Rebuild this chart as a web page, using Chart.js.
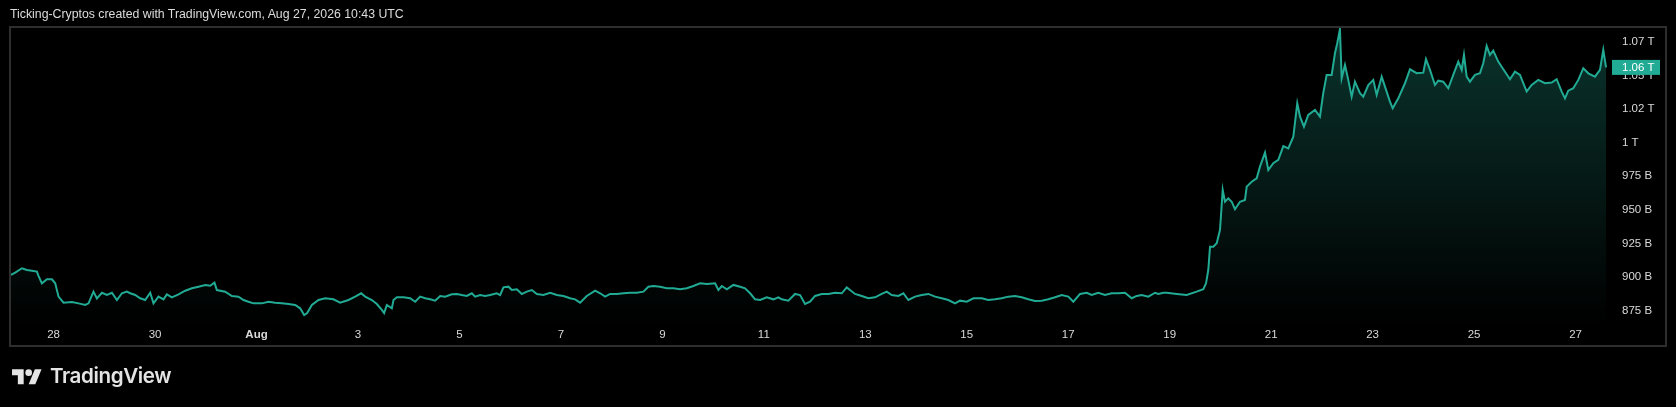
<!DOCTYPE html>
<html>
<head>
<meta charset="utf-8">
<script src="https://cdn.jsdelivr.net/npm/chart.js@4.4.1/dist/chart.umd.min.js"></script>
<style>
  html, body { margin: 0; padding: 0; background: #000; }
  #wrap { position: relative; width: 1676px; height: 407px; overflow: hidden; background: #000; }
  #myChart { position: absolute; left: 0; top: 0; }
  .title { position: absolute; left: 10px; top: 7px; font: 12.3px "Liberation Sans", Arial, sans-serif; color: #dcdcdc; white-space: nowrap; }
  .logo { position: absolute; left: 11.7px; top: 365.7px; }
  .brand { position: absolute; left: 50px; top: 366px; font: 600 20.6px Inter, sans-serif; line-height: 1; color: #e4e4e4; letter-spacing: -0.4px; }
</style>
</head>
<body>
<div id="wrap">
  <canvas id="myChart" width="1676" height="407"></canvas>
  <div class="title">Ticking-Cryptos created with TradingView.com, Aug 27, 2026 10:43 UTC</div>
  <svg class="logo" viewBox="0 0 36 28" width="30" height="23.3" fill="#e4e4e4"><path d="M14 22H7V11H0V4h14v18zM28 22h-8l7.5-18h8L28 22z"/><circle cx="20" cy="8" r="4"/></svg>
  <div class="brand">TradingView</div>
</div>
<script>
// days since Jul 28 00:00 UTC
const days = [
  -0.84,-0.757,-0.625,-0.526,-0.428,-0.329,-0.298,-0.231,-0.132,-0.034,
  0.032,0.097,0.195,0.361,0.491,0.623,0.688,0.786,0.853,0.952,
  1.050,1.149,1.248,1.346,1.445,1.510,1.608,1.707,1.805,1.904,
  1.969,2.067,2.166,2.233,2.331,2.462,2.594,2.726,2.856,2.988,
  3.086,3.171,3.218,3.382,3.514,3.644,3.743,3.841,3.940,4.105,
  4.235,4.367,4.499,4.630,4.761,4.860,4.939,4.998,5.091,5.221,
  5.353,5.516,5.648,5.812,5.944,6.062,6.141,6.273,6.372,6.470,
  6.515,6.569,6.667,6.700,6.766,6.896,7.028,7.127,7.225,7.324,
  7.423,7.521,7.620,7.718,7.850,7.948,8.047,8.145,8.244,8.309,
  8.408,8.506,8.605,8.737,8.802,8.867,8.965,9.032,9.131,9.229,
  9.328,9.427,9.525,9.655,9.787,9.919,10.049,10.181,10.280,10.378,
  10.510,10.674,10.773,10.871,10.970,11.102,11.232,11.364,11.496,11.626,
  11.724,11.823,11.955,12.087,12.217,12.349,12.481,12.611,12.743,12.875,
  13.039,13.104,13.171,13.270,13.400,13.532,13.630,13.729,13.827,13.926,
  14.058,14.188,14.286,14.353,14.483,14.615,14.714,14.812,14.911,15.009,
  15.141,15.272,15.404,15.536,15.634,15.699,15.798,15.930,16.060,16.192,
  16.324,16.423,16.521,16.651,16.750,16.848,16.981,17.113,17.243,17.375,
  17.507,17.637,17.769,17.867,18.000,18.130,18.295,18.425,18.557,18.689,
  18.819,18.951,19.083,19.213,19.345,19.477,19.608,19.740,19.872,20.002,
  20.101,20.233,20.365,20.463,20.593,20.725,20.857,20.987,21.119,21.251,
  21.350,21.449,21.579,21.711,21.776,21.875,21.941,22.138,22.335,22.532,
  22.663,22.716,22.761,22.795,22.860,22.927,22.992,23.045,23.090,23.155,
  23.222,23.287,23.386,23.484,23.518,23.616,23.715,23.780,23.879,23.944,
  24.042,24.141,24.240,24.338,24.437,24.515,24.569,24.647,24.732,24.864,
  24.962,25.027,25.094,25.193,25.258,25.303,25.356,25.390,25.455,25.520,
  25.587,25.652,25.751,25.816,25.915,26.013,26.080,26.179,26.244,26.342,
  26.396,26.506,26.638,26.737,26.869,26.999,27.052,27.131,27.229,27.294,
  27.393,27.492,27.590,27.689,27.756,27.801,27.854,27.919,28.018,28.116,
  28.181,28.248,28.313,28.378,28.477,28.576,28.708,28.806,28.905,29.037,
  29.135,29.266,29.398,29.530,29.628,29.727,29.792,29.857,29.956,30.055,
  30.153,30.252,30.384,30.482,30.547,30.601
];

// market cap, billions USD
const values = [
  901.6,903.3,906.6,905.3,904.8,904.1,900.9,895.4,898.4,898.4,
  895.4,885.5,881.0,881.5,880.5,879.3,880.5,889.2,884.2,888.4,
  886.7,888.4,883.0,888.0,889.2,888.0,886.7,884.3,883.0,888.4,
  880.5,885.5,883.5,887.2,885.0,887.2,889.9,891.7,892.9,894.2,
  893.6,895.9,890.4,889.2,885.9,885.4,883.0,881.7,880.5,880.5,
  881.7,881.0,880.5,880.0,879.3,876.8,871.8,873.3,879.3,883.0,
  884.3,883.5,881.0,883.0,885.5,888.0,885.5,883.0,880.0,875.6,
  873.3,879.3,876.8,883.0,885.0,885.0,884.3,881.7,885.5,884.3,
  883.5,882.5,886.0,885.5,887.2,887.5,886.7,886.0,888.0,885.5,
  886.7,886.0,886.7,888.0,886.7,892.4,892.9,890.4,891.0,887.5,
  889.2,890.4,887.5,886.7,888.4,886.7,886.0,884.3,883.5,881.0,
  886.0,889.9,888.0,885.5,887.5,887.5,888.0,888.4,888.4,889.2,
  892.9,893.4,892.9,891.7,891.7,891.0,891.7,893.4,895.4,894.9,
  895.4,890.4,893.4,891.0,894.2,892.9,891.7,888.0,883.5,883.0,
  885.0,883.5,885.0,883.5,882.5,887.5,886.7,880.0,881.7,886.0,
  887.5,887.5,888.4,888.0,892.4,890.4,887.5,886.0,884.3,885.0,
  887.5,889.2,886.7,886.0,888.0,883.0,885.5,886.7,887.5,885.5,
  884.3,883.0,880.5,882.5,881.7,884.3,884.3,883.0,883.5,884.3,
  885.5,886.0,885.0,883.5,882.2,882.5,883.5,885.0,886.7,885.5,
  881.7,887.5,888.4,886.7,888.4,886.7,888.0,888.0,888.4,884.3,
  886.0,886.7,885.5,888.4,887.5,888.4,888.4,887.5,886.7,889.2,
  891.0,895.4,905.3,922.6,922.6,925.2,935.1,964.8,956.1,958.6,
  956.1,950.5,956.1,957.4,967.3,971.0,973.5,982.2,992.6,979.7,
  984.7,987.2,997.5,995.8,1004.5,1029.3,1019.4,1011.9,1020.6,1024.3,
  1019.4,1036.8,1050.4,1050.4,1066.5,1074.0,1084.4,1047.9,1057.8,1046.7,
  1034.2,1045.4,1036.8,1034.2,1042.9,1046.7,1035.5,1049.1,1041.7,1030.5,
  1025.6,1033.0,1044.2,1054.6,1051.7,1052.1,1062.1,1054.1,1042.9,1046.1,
  1045.4,1040.5,1050.4,1060.3,1054.1,1065.3,1049.1,1045.4,1050.4,1051.6,
  1059.1,1072.0,1065.3,1068.5,1060.3,1054.6,1047.2,1052.8,1050.4,1038.0,
  1042.9,1046.7,1044.2,1044.7,1047.2,1038.0,1033.0,1038.7,1040.5,1046.7,
  1055.4,1051.6,1049.1,1054.1,1069.0,1056.0
];

// x axis ticks (days since Jul 28) and their labels
const dateTicks = [0, 2, 4, 6, 8, 10, 12, 14, 16, 18, 20, 22, 24, 26, 28, 30];
const dateLabels = ['28', '30', 'Aug', '3', '5', '7', '9', '11', '13', '15', '17', '19', '21', '23', '25', '27'];

// price axis ticks (billions) and their labels
const priceTicks = [875, 900, 925, 950, 975, 1000, 1025, 1050, 1075];
const priceLabels = ['875 B', '900 B', '925 B', '950 B', '975 B', '1 T', '1.02 T', '1.05 T', '1.07 T'];

const lineColor = '#22ab94';
const textColor = '#d9d9d9';
const fontFamily = '"Liberation Sans", Arial, sans-serif';

const framePlugin = {
  id: 'frame',
  afterDraw(chart) {
    const c = chart.ctx;
    const ys = chart.scales.y;
    const xs = chart.scales.x;
    c.save();
    // outer frame of the pane
    c.strokeStyle = '#2e2e2e';
    c.lineWidth = 2;
    c.strokeRect(10, 27, ys.right - 10, xs.bottom - 27);
    // last value badge on the price axis
    const last = values[values.length - 1];
    const py = ys.getPixelForValue(last);
    c.fillStyle = lineColor;
    c.fillRect(ys.left + 4, py - 7.5, 48, 15);
    c.fillStyle = '#ffffff';
    c.font = '11.5px ' + fontFamily;
    c.textBaseline = 'middle';
    c.textAlign = 'left';
    c.fillText((last / 1000).toFixed(2) + ' T', ys.left + 14, py + 0.5);
    c.restore();
  }
};

const ctx = document.getElementById('myChart').getContext('2d');
const myChart = new Chart(ctx, {
  type: 'line',
  data: {
    datasets: [{
      data: days.map((d, i) => ({ x: d, y: values[i] })),
      borderColor: lineColor,
      borderWidth: 2,
      pointRadius: 0,
      tension: 0,
      fill: 'start',
      backgroundColor: (context) => {
        const area = context.chart.chartArea;
        if (!area) return 'rgba(0,0,0,0)';
        const g = context.chart.ctx.createLinearGradient(0, area.top, 0, area.bottom);
        g.addColorStop(0, 'rgba(34,171,148,0.30)');
        g.addColorStop(1, 'rgba(34,171,148,0.0)');
        return g;
      }
    }]
  },
  options: {
    responsive: false,
    animation: false,
    devicePixelRatio: 1,
    layout: { padding: { left: 11, top: 28, right: 10, bottom: 61 } },
    plugins: { legend: { display: false }, tooltip: { enabled: false } },
    scales: {
      x: {
        type: 'linear',
        min: -0.84,
        max: 30.64,
        grid: { display: false, drawTicks: false },
        border: { display: false },
        afterBuildTicks: (scale) => { scale.ticks = dateTicks.map(v => ({ value: v })); },
        afterFit: (scale) => { scale.height = 21; },
        ticks: {
          autoSkip: false,
          maxRotation: 0,
          padding: 3,
          color: textColor,
          font: (c) => ({ family: fontFamily, size: 11.5, weight: (c.tick && c.tick.label === 'Aug') ? 'bold' : 'normal' }),
          callback: (value) => dateLabels[dateTicks.indexOf(value)]
        }
      },
      y: {
        position: 'right',
        min: 864.4,
        max: 1085.3,
        grid: { display: false, drawTicks: false },
        border: { display: false },
        afterBuildTicks: (scale) => { scale.ticks = priceTicks.map(v => ({ value: v })); },
        afterFit: (scale) => { scale.width = 58; },
        ticks: {
          padding: 14,
          color: textColor,
          font: { family: fontFamily, size: 11.5 },
          callback: (value) => priceLabels[priceTicks.indexOf(value)]
        }
      }
    }
  },
  plugins: [framePlugin]
});
</script>
</body>
</html>
